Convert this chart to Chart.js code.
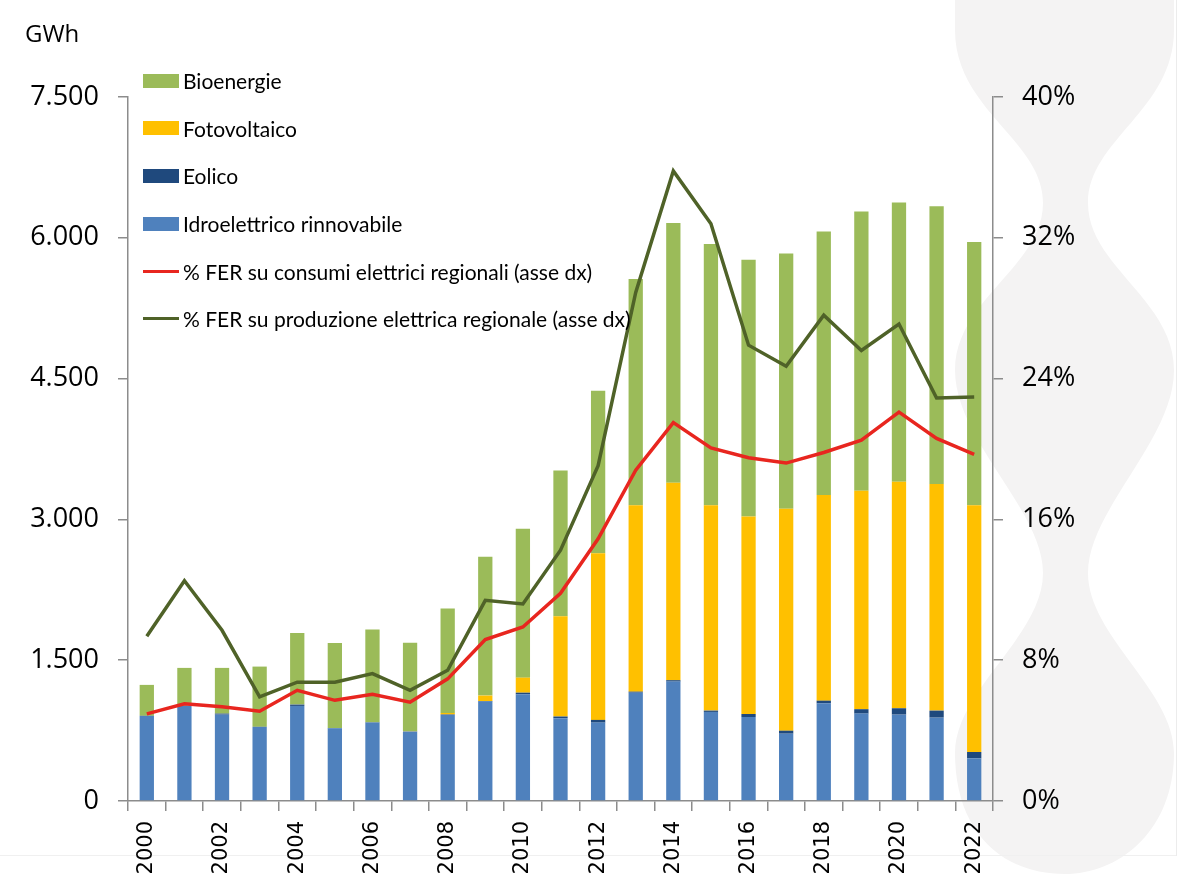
<!DOCTYPE html>
<html lang="it">
<head>
<meta charset="utf-8">
<title>FER regionali</title>
<script src="https://cdn.jsdelivr.net/npm/chart.js@4.4.0/dist/chart.umd.min.js"></script>
<style>
  html, body { margin: 0; padding: 0; background: #fff; }
  #wrap { position: relative; width: 1191px; height: 886px; overflow: hidden; font-family: "Open Sans", sans-serif; color: #000; }
  #deco { position: absolute; left: 0; top: 0; }
  #chart { position: absolute; left: 0; top: 0; }
  #unit { position: absolute; left: 25px; top: 16px; font-size: 24px; line-height: 34px; }
  #legend { position: absolute; left: 143px; top: 57px; font-family: Lato, sans-serif; }
  .item { display: flex; align-items: center; height: 47.6px; font-size: 21px; white-space: nowrap; }
  .swatch { width: 36px; height: 14px; margin-right: 4px; flex: none; }
  .swatch.line { height: 3px; }
</style>
</head>
<body>
<div id="wrap">
  <svg id="deco" width="1191" height="886">
    <path fill="#f4f3f3" d="M955 0 L1174 0 L1174 30 C1174 110 1088 140 1088 203 C1088 266 1174 300 1174 370
      C1174 440 1088 510 1088 573 C1088 636 1174 690 1174 753 C1174 830 1120 874 1065 874
      C1000 874 955 830 955 753 C955 690 1043 636 1043 573 C1043 510 955 440 955 370
      C955 300 1043 266 1043 203 C1043 140 955 110 955 30 Z"/>
    <line x1="1176.5" y1="0" x2="1176.5" y2="856" stroke="#ececec" stroke-width="1"/>
    <line x1="0" y1="855.5" x2="1176" y2="855.5" stroke="#f0f0f0" stroke-width="1"/>
  </svg>
  <canvas id="chart" width="1191" height="886"></canvas>
  <div id="unit">GWh</div>
  <div id="legend"></div>
</div>
<script>
const years = ["2000", "2001", "2002", "2003", "2004", "2005", "2006", "2007", "2008", "2009", "2010", "2011",
  "2012", "2013", "2014", "2015", "2016", "2017", "2018", "2019", "2020", "2021", "2022"];

// GWh
const idroelettrico = [906, 1013, 920, 789, 1013, 775, 835, 739, 917, 1059, 1137, 882,
  835, 1154, 1272, 949, 895, 717, 1041, 931, 920, 888, 455];
const eolico = [2, 2, 11, 2, 14, 3, 3, 3, 5, 6, 17, 18,
  29, 11, 15, 14, 32, 32, 28, 47, 68, 75, 67];
const fotovoltaico = [0, 0, 0, 0, 0, 0, 1, 2, 16, 58, 160, 1069,
  1776, 1987, 2103, 2189, 2104, 2364, 2190, 2327, 2413, 2413, 2630];
const bioenergie = [329, 403, 487, 641, 764, 906, 988, 942, 1112, 1478, 1586, 1552,
  1731, 2409, 2768, 2782, 2736, 2721, 2807, 2974, 2974, 2959, 2804];

// % (asse dx)
const ferConsumi = [4.95, 5.52, 5.35, 5.1, 6.29, 5.72, 6.06, 5.61, 6.94, 9.17, 9.89, 11.8,
  14.9, 18.8, 21.5, 20.06, 19.5, 19.2, 19.8, 20.5, 22.1, 20.6, 19.7];
const ferProduzione = [9.36, 12.52, 9.7, 5.92, 6.75, 6.75, 7.24, 6.29, 7.43, 11.4, 11.2, 14.25,
  19.05, 28.9, 35.8, 32.8, 25.9, 24.7, 27.6, 25.6, 27.1, 22.9, 22.95];

const leftTicks = [0, 1500, 3000, 4500, 6000, 7500];
const rightTicks = [0, 8, 16, 24, 32, 40];

const colors = {
  bio: "#9bbb59",
  pv: "#ffc000",
  eolico: "#1f497d",
  idro: "#4f81bd",
  consumi: "#e8261f",
  produzione: "#4f6228",
};

const axisColor = "#8c8c8c";

function formatThousands(value) {
  return String(value).replace(/\B(?=(\d{3})+(?!\d))/g, ".");
}

const barDatasets = [
  { label: "Idroelettrico rinnovabile", data: idroelettrico, backgroundColor: colors.idro },
  { label: "Eolico", data: eolico, backgroundColor: colors.eolico },
  { label: "Fotovoltaico", data: fotovoltaico, backgroundColor: colors.pv },
  { label: "Bioenergie", data: bioenergie, backgroundColor: colors.bio },
].map((ds) => ({
  ...ds,
  type: "bar",
  yAxisID: "y",
  stack: "gwh",
  order: 1,
  barPercentage: 0.38,
  categoryPercentage: 1,
}));

const lineDatasets = [
  { label: "% FER su consumi elettrici regionali (asse dx)", data: ferConsumi, borderColor: colors.consumi },
  { label: "% FER su produzione elettrica regionale (asse dx)", data: ferProduzione, borderColor: colors.produzione },
].map((ds) => ({
  ...ds,
  type: "line",
  yAxisID: "y1",
  order: 0,
  borderWidth: 3.5,
  pointRadius: 0,
  tension: 0,
  fill: false,
}));

const tickFont = { family: "'Open Sans', sans-serif", size: 27 };

new Chart(document.getElementById("chart"), {
  type: "bar",
  data: {
    labels: years,
    datasets: [...barDatasets, ...lineDatasets],
  },
  options: {
    responsive: false,
    animation: false,
    layout: { padding: { top: 97, left: 0, right: 0, bottom: 0 } },
    plugins: {
      legend: { display: false },
      tooltip: { enabled: false },
    },
    scales: {
      x: {
        stacked: true,
        grid: { display: true, drawOnChartArea: false, drawTicks: true, tickLength: 10, color: axisColor, lineWidth: 1.5, offset: true },
        border: { display: true, color: axisColor, width: 1.5 },
        ticks: {
          autoSkip: false,
          minRotation: 90,
          maxRotation: 90,
          padding: 10,
          color: "#000",
          font: { family: "'DejaVu Sans', sans-serif", size: 21 },
          callback: (value, index) => (index % 2 === 0 ? years[index] : ""),
        },
        afterFit: (scale) => { scale.height = 85; },
      },
      y: {
        stacked: true,
        position: "left",
        min: 0,
        max: 7500,
        afterBuildTicks: (scale) => { scale.ticks = leftTicks.map((v) => ({ value: v })); },
        grid: { display: true, drawOnChartArea: false, drawTicks: true, tickLength: 10, color: axisColor, lineWidth: 1.5 },
        border: { display: true, color: axisColor, width: 1.5 },
        ticks: {
          padding: 19,
          color: "#000",
          font: tickFont,
          callback: (value) => formatThousands(value),
        },
        afterFit: (scale) => { scale.width = 128; },
      },
      y1: {
        position: "right",
        min: 0,
        max: 40,
        afterBuildTicks: (scale) => { scale.ticks = rightTicks.map((v) => ({ value: v })); },
        grid: { display: true, drawOnChartArea: false, drawTicks: true, tickLength: 10, color: axisColor, lineWidth: 1.5 },
        border: { display: true, color: axisColor, width: 1.5 },
        ticks: {
          padding: 19,
          color: "#000",
          font: tickFont,
          callback: (value) => value + "%",
        },
        afterFit: (scale) => { scale.width = 198; },
      },
    },
  },
});

// legend: bars in reverse stacking order, then the two lines
const legendEl = document.getElementById("legend");
const legendEntries = [
  ...barDatasets.slice().reverse().map((ds) => ({ label: ds.label, color: ds.backgroundColor, line: false })),
  ...lineDatasets.map((ds) => ({ label: ds.label, color: ds.borderColor, line: true })),
];
legendEntries.forEach((entry) => {
  const row = document.createElement("div");
  row.className = "item";
  const swatch = document.createElement("span");
  swatch.className = entry.line ? "swatch line" : "swatch";
  swatch.style.background = entry.color;
  const text = document.createElement("span");
  text.textContent = entry.label;
  row.appendChild(swatch);
  row.appendChild(text);
  legendEl.appendChild(row);
});
</script>
</body>
</html>
